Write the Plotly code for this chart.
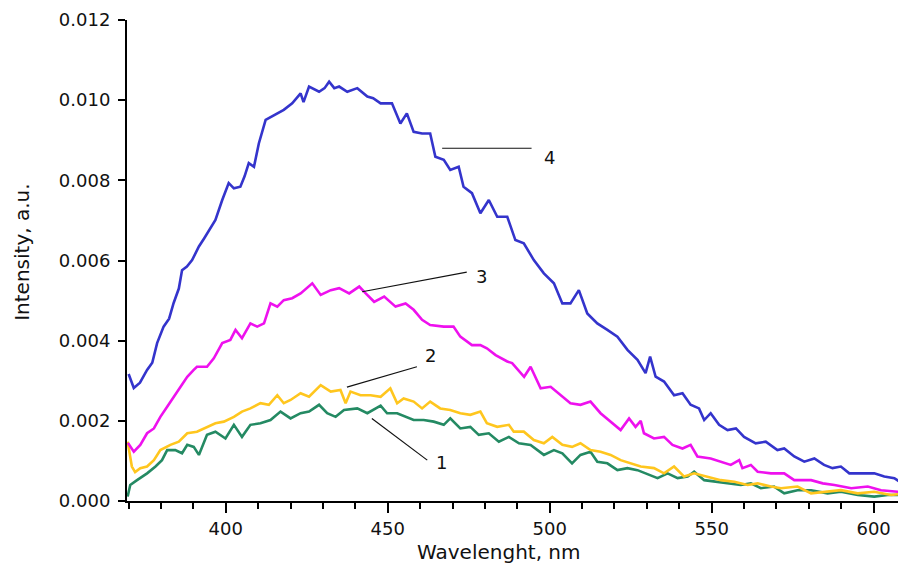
import plotly.graph_objects as go

# ---------------- data ----------------
wl_1 = [369.7, 370.5, 372.6, 375.7, 378.3, 380.3, 381.9, 384.4, 386.5, 388.1, 390.1, 391.7,
        394.2, 396.8, 399.9, 402.5, 405.0, 407.6, 410.7, 413.8, 416.9, 420.0, 423.1, 425.7,
        428.8, 431.3, 433.9, 436.5, 440.6, 443.7, 447.8, 449.8, 452.9, 455.5, 458.0, 461.1,
        464.2, 467.3, 469.3, 472.4, 475.5, 478.1, 481.2, 484.3, 487.4, 490.5, 494.1, 498.2,
        501.3, 503.9, 506.9, 509.5, 512.6, 514.7, 517.8, 520.9, 524.0, 527.1, 530.2, 533.3,
        536.4, 539.5, 542.6, 544.6, 547.7, 551.8, 555.9, 559.0, 562.1, 565.2, 569.3, 572.4,
        576.5, 580.7, 585.8, 589.9, 595.1, 600.2, 604.3, 610.0]
int_1 = [0.00011, 0.00040, 0.00052, 0.00069, 0.00086, 0.00102, 0.00127, 0.00127, 0.00119, 0.00140, 0.00135, 0.00115,
         0.00165, 0.00173, 0.00156, 0.00190, 0.00160, 0.00190, 0.00194, 0.00202, 0.00223, 0.00206, 0.00219, 0.00223,
         0.00240, 0.00219, 0.00210, 0.00227, 0.00231, 0.00219, 0.00238, 0.00219, 0.00219, 0.00210, 0.00202, 0.00202,
         0.00198, 0.00190, 0.00206, 0.00181, 0.00185, 0.00165, 0.00169, 0.00148, 0.00160, 0.00144, 0.00140, 0.00115,
         0.00127, 0.00119, 0.00094, 0.00115, 0.00123, 0.00098, 0.00094, 0.00077, 0.00082, 0.00077, 0.00067, 0.00057,
         0.00069, 0.00057, 0.00061, 0.00073, 0.00052, 0.00048, 0.00044, 0.00040, 0.00044, 0.00032, 0.00036, 0.00019,
         0.00027, 0.00027, 0.00019, 0.00023, 0.00015, 0.00011, 0.00015, 0.00015]

wl_2 = [369.7, 370.5, 371.0, 372.0, 373.6, 375.7, 377.8, 379.8, 382.9, 385.5, 388.1, 391.1,
        394.2, 396.8, 399.4, 402.5, 405.0, 407.6, 410.7, 413.3, 415.9, 417.9, 420.0, 423.1,
        425.7, 429.3, 432.4, 435.4, 437.0, 438.5, 441.6, 444.7, 447.8, 450.8, 452.9, 454.9,
        458.0, 460.6, 463.1, 466.2, 469.3, 472.4, 475.5, 478.6, 480.6, 483.8, 487.4, 488.9,
        492.0, 495.1, 498.2, 500.8, 503.9, 506.9, 509.5, 512.6, 515.7, 518.8, 521.9, 525.0,
        528.1, 532.2, 535.3, 538.4, 541.5, 544.6, 548.7, 552.8, 557.0, 561.1, 564.2, 568.3,
        571.4, 576.5, 580.7, 585.8, 589.9, 595.1, 600.2, 605.4, 610.0]
int_2 = [0.00148, 0.00110, 0.00086, 0.00072, 0.00082, 0.00086, 0.00102, 0.00127, 0.00140, 0.00148, 0.00169, 0.00173,
         0.00185, 0.00194, 0.00198, 0.00210, 0.00223, 0.00231, 0.00244, 0.00240, 0.00264, 0.00244, 0.00252, 0.00269,
         0.00260, 0.00289, 0.00273, 0.00277, 0.00244, 0.00273, 0.00264, 0.00264, 0.00260, 0.00281, 0.00244, 0.00256,
         0.00248, 0.00231, 0.00248, 0.00231, 0.00227, 0.00219, 0.00215, 0.00223, 0.00194, 0.00185, 0.00190, 0.00173,
         0.00173, 0.00152, 0.00144, 0.00160, 0.00140, 0.00135, 0.00144, 0.00127, 0.00123, 0.00115, 0.00102, 0.00094,
         0.00086, 0.00082, 0.00069, 0.00086, 0.00061, 0.00069, 0.00061, 0.00052, 0.00048, 0.00040, 0.00044, 0.00036,
         0.00032, 0.00036, 0.00019, 0.00023, 0.00027, 0.00019, 0.00023, 0.00015, 0.00019]

wl_3 = [369.8, 371.6, 373.6, 375.7, 377.8, 379.8, 381.9, 384.0, 386.0, 388.1, 390.1, 391.1,
        394.2, 396.3, 398.9, 401.4, 403.0, 405.0, 407.6, 409.7, 411.8, 413.8, 415.9, 417.9,
        420.5, 423.1, 426.7, 429.3, 432.4, 435.0, 438.1, 441.2, 443.2, 445.8, 448.9, 452.4,
        455.5, 458.0, 460.6, 463.1, 467.3, 470.3, 472.4, 476.0, 478.6, 480.6, 483.3, 486.9,
        488.4, 492.1, 494.1, 497.2, 500.3, 503.4, 506.4, 509.5, 512.6, 515.7, 518.8, 521.9,
        524.5, 526.5, 528.1, 529.1, 532.2, 535.3, 537.9, 541.0, 543.5, 545.6, 549.7, 552.8,
        555.9, 558.5, 559.5, 562.1, 564.2, 568.3, 572.4, 575.5, 580.7, 584.3, 587.9, 593.1,
        598.2, 602.3, 607.4, 610.0]
int_3 = [0.00145, 0.00123, 0.00140, 0.00169, 0.00181, 0.00210, 0.00235, 0.00260, 0.00285, 0.00310, 0.00327, 0.00335,
         0.00335, 0.00356, 0.00394, 0.00402, 0.00427, 0.00406, 0.00443, 0.00435, 0.00443, 0.00493, 0.00485, 0.00501,
         0.00506, 0.00518, 0.00543, 0.00514, 0.00526, 0.00531, 0.00518, 0.00535, 0.00518, 0.00497, 0.00510, 0.00485,
         0.00493, 0.00477, 0.00452, 0.00439, 0.00435, 0.00435, 0.00410, 0.00389, 0.00389, 0.00381, 0.00364, 0.00348,
         0.00344, 0.00310, 0.00335, 0.00281, 0.00285, 0.00264, 0.00244, 0.00240, 0.00248, 0.00219, 0.00198, 0.00177,
         0.00206, 0.00185, 0.00200, 0.00169, 0.00156, 0.00160, 0.00140, 0.00131, 0.00140, 0.00111, 0.00106, 0.00098,
         0.00090, 0.00102, 0.00082, 0.00090, 0.00073, 0.00069, 0.00069, 0.00052, 0.00052, 0.00044, 0.00040, 0.00032,
         0.00036, 0.00027, 0.00023, 0.00027]

wl_4 = [370.0, 371.6, 373.5, 375.7, 377.3, 378.8, 380.8, 382.5, 383.9, 385.5, 386.5, 388.0,
        389.6, 391.7, 393.3, 394.8, 396.8, 398.9, 400.9, 402.5, 404.5, 405.8, 407.1, 408.7,
        410.2, 412.3, 414.8, 417.9, 420.5, 423.1, 424.0, 425.7, 428.8, 430.5, 431.9, 433.5,
        435.0, 437.5, 440.6, 443.7, 445.5, 447.8, 451.3, 453.9, 455.9, 458.0, 460.6, 463.1,
        464.7, 467.3, 469.3, 471.9, 473.4, 476.0, 478.6, 481.2, 483.8, 486.9, 489.4, 492.0,
        495.1, 498.2, 501.3, 503.9, 506.4, 509.0, 511.6, 514.7, 517.8, 520.9, 524.0, 527.1,
        529.6, 531.0, 532.7, 535.3, 538.4, 541.0, 543.5, 546.1, 547.7, 549.7, 552.3, 554.9,
        557.5, 560.0, 563.6, 566.7, 570.3, 572.4, 575.5, 578.6, 581.7, 584.7, 587.3, 589.9,
        592.5, 596.1, 600.2, 603.3, 606.4, 609.5, 610.0]
int_4 = [0.00317, 0.00282, 0.00295, 0.00327, 0.00345, 0.00394, 0.00435, 0.00455, 0.00494, 0.00530, 0.00576, 0.00585,
         0.00601, 0.00635, 0.00655, 0.00676, 0.00701, 0.00751, 0.00793, 0.00780, 0.00784, 0.00810, 0.00843, 0.00834,
         0.00892, 0.00951, 0.00963, 0.00976, 0.00992, 0.01017, 0.00995, 0.01034, 0.01021, 0.01030, 0.01046, 0.01030,
         0.01034, 0.01021, 0.01030, 0.01009, 0.01005, 0.00992, 0.00992, 0.00942, 0.00967, 0.00921, 0.00917, 0.00917,
         0.00859, 0.00851, 0.00826, 0.00834, 0.00784, 0.00768, 0.00718, 0.00751, 0.00709, 0.00709, 0.00651, 0.00643,
         0.00601, 0.00568, 0.00543, 0.00493, 0.00493, 0.00526, 0.00468, 0.00443, 0.00427, 0.00410, 0.00377, 0.00352,
         0.00319, 0.00360, 0.00310, 0.00298, 0.00264, 0.00269, 0.00240, 0.00231, 0.00202, 0.00219, 0.00190, 0.00177,
         0.00181, 0.00160, 0.00144, 0.00148, 0.00127, 0.00131, 0.00111, 0.00098, 0.00106, 0.00090, 0.00082, 0.00086,
         0.00069, 0.00069, 0.00069, 0.00061, 0.00057, 0.00040, 0.00042]

series_labels = ["1", "2", "3", "4"]
y_tick_values = [0.000, 0.002, 0.004, 0.006, 0.008, 0.010, 0.012]
y_tick_labels = ["0.000", "0.002", "0.004", "0.006", "0.008", "0.010", "0.012"]
x_tick_values = [400, 450, 500, 550, 600]

# ---------------- styling ----------------
FONT = "DejaVu Sans, Liberation Sans, Arial, sans-serif"
colors = ["#248A63", "#FFC61E", "#EE11EE", "#3434CC"]
series = [(wl_1, int_1), (wl_2, int_2), (wl_3, int_3), (wl_4, int_4)]

# leader lines (x0, y0, x1, y1) and label anchor positions for curve numbers
leaders = [(445.1, 0.00206, 462.2, 0.00102),
           (437.4, 0.00284, 459.0, 0.00335),
           (442.1, 0.00522, 474.4, 0.00571),
           (466.8, 0.00880, 494.4, 0.00880)]
label_pos = [(466.6, 0.00097), (463.2, 0.00362), (478.9, 0.00559), (499.9, 0.00858)]

fig = go.Figure()
for (wl, it), c, name in zip(series, colors, series_labels):
    fig.add_trace(go.Scatter(x=wl, y=it, mode="lines", name=name,
                             line=dict(color=c, width=2.6), showlegend=False))

shapes = []
for (x0, y0, x1, y1) in leaders:
    shapes.append(dict(type="line", xref="x", yref="y", x0=x0, y0=y0, x1=x1, y1=y1,
                       line=dict(color="#111111", width=1.2)))

annotations = []
for (lx, ly), t in zip(label_pos, series_labels):
    annotations.append(dict(x=lx, y=ly, xref="x", yref="y", text=t, showarrow=False,
                            font=dict(family=FONT, size=18, color="#111111"),
                            xanchor="center", yanchor="middle"))

# axis titles placed as annotations for precise positioning
annotations.append(dict(x=-0.1348, y=0.518, xref="paper", yref="paper",
                        text="Intensity, a.u.", showarrow=False, textangle=-90,
                        font=dict(family=FONT, size=20, color="#111111"),
                        xanchor="center", yanchor="middle"))
annotations.append(dict(x=0.4775, y=-0.1070, xref="paper", yref="paper",
                        text="Wavelenght, nm", showarrow=False,
                        font=dict(family=FONT, size=20, color="#111111"),
                        xanchor="center", yanchor="middle"))

# the page places the figure 8 px from the top-left corner; size/margins compensate
fig.update_layout(
    width=898, height=559,
    margin=dict(l=119, r=0, t=12, b=66),
    paper_bgcolor="white", plot_bgcolor="white",
    shapes=shapes, annotations=annotations,
    font=dict(family=FONT, color="#111111"),
    xaxis=dict(range=[369.5, 610], showgrid=False, zeroline=False,
               showline=True, linecolor="black", linewidth=2,
               ticks="outside", ticklen=10, tickwidth=1.5, tickcolor="black",
               tickvals=x_tick_values,
               minor=dict(dtick=10, tick0=0, ticks="outside", ticklen=6,
                          tickwidth=1.5, tickcolor="black", showgrid=False),
               tickfont=dict(family=FONT, size=18, color="#111111")),
    yaxis=dict(range=[0, 0.012], showgrid=False, zeroline=False,
               showline=True, linecolor="black", linewidth=2,
               ticks="outside", ticklen=7, tickwidth=1.5, tickcolor="black",
               ticklabelstandoff=4,
               tickvals=y_tick_values, ticktext=y_tick_labels,
               tickfont=dict(family=FONT, size=18, color="#111111")),
)

fig.write_html("out.html")
